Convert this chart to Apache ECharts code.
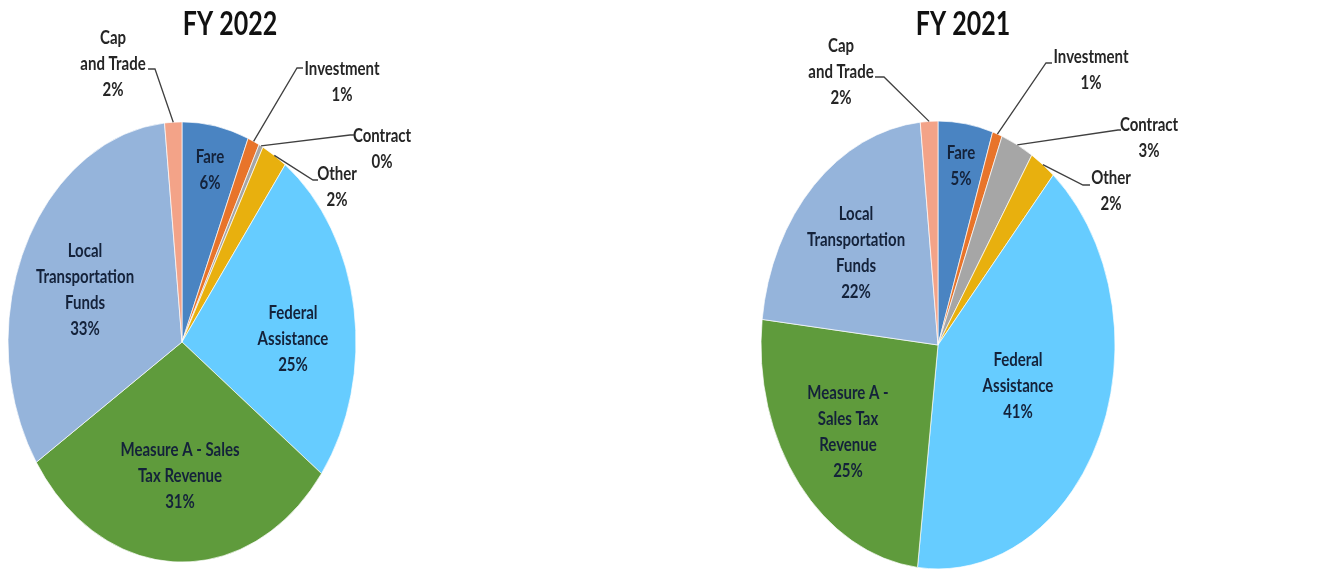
<!DOCTYPE html>
<html>
<head>
<meta charset="utf-8">
<title>Revenue sources FY 2022 / FY 2021</title>
<script src="https://cdn.jsdelivr.net/npm/echarts@6/dist/echarts.min.js"></script>
</head>
<body style="margin:0;background:#fff;">
<div id="main" style="width:1332px;height:570px;"></div>
<script type="text/javascript">
    var categories = ['Fare', 'Investment', 'Contract', 'Other', 'Federal Assistance',
        'Measure A - Sales Tax Revenue', 'Local Transportation Funds', 'Cap and Trade'];
    var fy2022 = [6.2, 1.1, 0.4, 2.4, 25.1, 30.6, 32.6, 1.6];
    var fy2021 = [5.0, 0.9, 3.0, 2.4, 40.6, 25.0, 21.6, 1.6];

    // how each label wraps in the two pies
    var wrap2022 = ['Fare', 'Investment', 'Contract', 'Other', 'Federal\nAssistance',
        'Measure A - Sales\nTax Revenue', 'Local\nTransportation\nFunds', 'Cap\nand Trade'];
    var wrap2021 = ['Fare', 'Investment', 'Contract', 'Other', 'Federal\nAssistance',
        'Measure A -\nSales Tax\nRevenue', 'Local\nTransportation\nFunds', 'Cap\nand Trade'];

    var colors = ['#4a84c2', '#e8742a', '#a6a6a6', '#e8b00e', '#66ccff', '#5f9b3c', '#95b4db', '#f3a388'];

    // the source picture is stretched vertically: pies and text get this y scale
    var stretch = 1.265;
    var centers = [[182, 342], [938, 345]];
    var radii = [174, 177];

    // label centres in page px
    var labelAt = [
        [[210, 170], [342, 82], [382, 149], [337, 187], [293, 339], [180, 476], [85, 290], [113, 64]],
        [[961, 166], [1091, 70], [1149, 138], [1111, 191], [1018, 386], [848, 432], [856, 253], [841, 72]]
    ];
    // leader lines for the small slices: [elbow x, elbow y, end x]
    var leaders = [
        [null, [297, 68, 303], [350, 135, 354], [313, 180, 318], null, null, null, [155, 69, 148]],
        [null, [1046, 63, 1052], [1118, 130, 1121], [1083, 185, 1090], null, null, null, [884, 77, 875]]
    ];

    function makeSeries(values, center, radius) {
        var data = [];
        for (var i = 0; i < values.length; i++) {
            data.push({ name: categories[i], value: values[i], itemStyle: { color: colors[i] } });
        }
        return {
            type: 'pie',
            center: center,
            radius: radius,
            startAngle: 90,
            clockwise: true,
            animation: false,
            itemStyle: { borderColor: '#ffffff', borderWidth: 0.6 },
            label: { show: false },
            labelLine: { show: false },
            emphasis: { disabled: true },
            data: data
        };
    }

    // labels and leader lines, built from the same values
    function labelGraphics(values, wrap, s) {
        var total = 0, before = 0, out = [];
        values.forEach(function (v) { total += v; });
        var c = centers[s], r = radii[s];
        for (var i = 0; i < values.length; i++) {
            var pct = Math.round(values[i] / total * 100);
            var isIn = !leaders[s][i];
            var pos = labelAt[s][i];
            out.push({
                type: 'text', x: pos[0], y: pos[1], scaleY: stretch, z: 10,
                style: {
                    text: wrap[i] + '\n' + pct + '%',
                    font: 'bold 15px Lato', lineHeight: 20.5,
                    fill: isIn ? '#14223a' : '#262626',
                    textAlign: 'center', textVerticalAlign: 'middle'
                }
            });
            if (!isIn) {
                var a = (before + values[i] / 2) / total * 2 * Math.PI;
                var edge = [c[0] + r * Math.sin(a), c[1] - r * stretch * Math.cos(a)];
                var L = leaders[s][i];
                out.push({
                    type: 'polyline', z: 10,
                    shape: { points: [edge, [L[0], L[1]], [L[2], L[1]]] },
                    style: { stroke: '#404040', lineWidth: 1.3, fill: null }
                });
            }
            before += values[i];
        }
        return out;
    }

    function titleText(text, x) {
        return {
            type: 'text', x: x, y: 25, scaleY: stretch,
            style: {
                text: text, fill: '#111', textAlign: 'center', textVerticalAlign: 'middle',
                font: 'bold 25px Lato'
            }
        };
    }

    var myChart = echarts.init(document.getElementById('main'));
    var option = {
        backgroundColor: '#ffffff',
        graphic: [titleText('FY 2022', 230), titleText('FY 2021', 963)]
            .concat(labelGraphics(fy2022, wrap2022, 0))
            .concat(labelGraphics(fy2021, wrap2021, 1)),
        series: [
            makeSeries(fy2022, centers[0], radii[0]),
            makeSeries(fy2021, centers[1], radii[1])
        ]
    };
    myChart.setOption(option);

    // stretch each pie round its centre so it is an ellipse like the source
    myChart.getZr().storage.getRoots().forEach(function (root) {
        if (!root.childrenRef) return;
        var kids = root.childrenRef();
        if (!kids.length || kids[0].type !== 'sector') return;
        root.originX = kids[0].shape.cx;
        root.originY = kids[0].shape.cy;
        root.scaleY = stretch;
        root.markRedraw();
    });
</script>
</body>
</html>
